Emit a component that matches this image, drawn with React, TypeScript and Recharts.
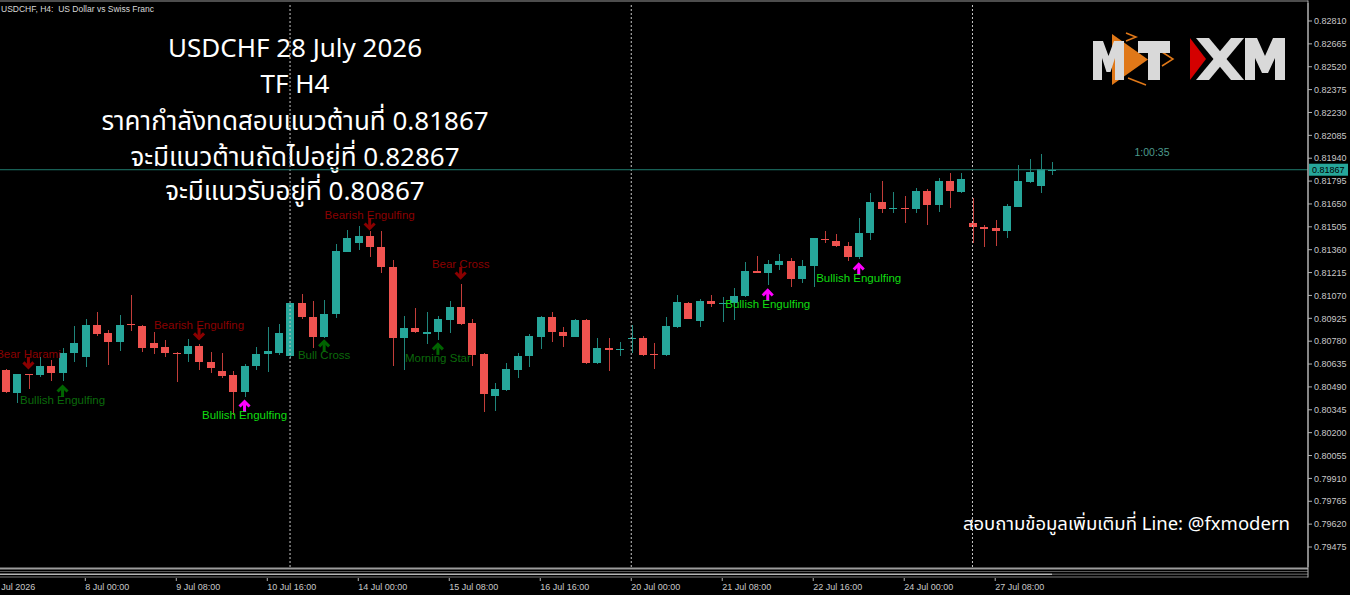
import React from 'react';
import { ComposedChart, Bar, XAxis, YAxis, ReferenceLine, ReferenceDot } from 'recharts';

// ---------- data ----------
const opens = [
  0.80597, 0.80453, 0.8057, 0.80566, 0.80623, 0.8058, 0.80703, 0.80682, 0.80883, 0.8083,
  0.80775, 0.80887, 0.80878, 0.80767, 0.80741, 0.80707, 0.80699, 0.80751, 0.80646, 0.80591,
  0.80566, 0.8046, 0.80623, 0.80699, 0.80707, 0.80686, 0.8102, 0.80935, 0.80808, 0.8095,
  0.81347, 0.81401, 0.81449, 0.81379, 0.81252, 0.80798, 0.80866, 0.80824, 0.80836, 0.80914,
  0.80995, 0.80893, 0.80697, 0.80434, 0.80471, 0.80597, 0.80686, 0.80808, 0.80935, 0.80836,
  0.80808, 0.80914, 0.8064, 0.80735, 0.80724, 0.80792, 0.80802, 0.80699, 0.80692, 0.80872,
  0.81024, 0.8091, 0.81035, 0.81014, 0.81024, 0.81066, 0.81225, 0.81214, 0.81263, 0.81288,
  0.81174, 0.81257, 0.8143, 0.81417, 0.81384, 0.81312, 0.81464, 0.81662, 0.81618, 0.81626,
  0.81616, 0.81734, 0.81643, 0.81797, 0.81724, 0.81531, 0.81502, 0.815, 0.81481, 0.81633,
  0.81791, 0.81764, 0.81864,
];
const highs = [
  0.80604, 0.80572, 0.80572, 0.8068, 0.80661, 0.80737, 0.80876, 0.80919, 0.80963, 0.80851,
  0.80946, 0.81073, 0.8088, 0.8084, 0.80788, 0.80713, 0.80792, 0.80762, 0.80713, 0.80703,
  0.80593, 0.80635, 0.80745, 0.80872, 0.80889, 0.81022, 0.81079, 0.81035, 0.81041, 0.81394,
  0.81485, 0.81512, 0.81479, 0.81479, 0.81295, 0.8094, 0.80992, 0.80963, 0.8094, 0.81035,
  0.81141, 0.80921, 0.80703, 0.80517, 0.8064, 0.80707, 0.80824, 0.80942, 0.80967, 0.80872,
  0.80921, 0.80921, 0.80802, 0.80802, 0.80777, 0.80883, 0.80815, 0.8077, 0.80931, 0.81073,
  0.81029, 0.81046, 0.81073, 0.81062, 0.81115, 0.81284, 0.81322, 0.81295, 0.81331, 0.81306,
  0.81295, 0.81434, 0.81479, 0.8146, 0.81411, 0.81563, 0.81718, 0.81797, 0.81728, 0.81702,
  0.81753, 0.81745, 0.81813, 0.81844, 0.81848, 0.81686, 0.81517, 0.81548, 0.8165, 0.81897,
  0.81933, 0.81965, 0.81918,
];
const lows = [
  0.80452, 0.80388, 0.80477, 0.80553, 0.8053, 0.8053, 0.8065, 0.80618, 0.80813, 0.80629,
  0.8072, 0.80847, 0.80713, 0.80699, 0.80682, 0.80523, 0.8065, 0.80597, 0.80576, 0.80545,
  0.80312, 0.80424, 0.80597, 0.80587, 0.80692, 0.80673, 0.80919, 0.80735, 0.808, 0.80925,
  0.81344, 0.81358, 0.81316, 0.8121, 0.80625, 0.80597, 0.8083, 0.80762, 0.80788, 0.8083,
  0.80883, 0.80625, 0.80333, 0.80339, 0.80465, 0.80545, 0.80618, 0.80729, 0.80777, 0.80741,
  0.80804, 0.80635, 0.80635, 0.80593, 0.80686, 0.80703, 0.80688, 0.80604, 0.80686, 0.80866,
  0.8092, 0.80868, 0.80995, 0.80904, 0.80914, 0.8106, 0.8121, 0.81136, 0.81231, 0.81126,
  0.81147, 0.81126, 0.81404, 0.81377, 0.8129, 0.81299, 0.81422, 0.81595, 0.81591, 0.81527,
  0.81595, 0.81517, 0.81601, 0.81623, 0.81718, 0.81401, 0.81379, 0.81384, 0.81432, 0.8163,
  0.81785, 0.81718, 0.81834,
];
const closes = [
  0.80458, 0.8057, 0.80565, 0.80623, 0.8058, 0.80707, 0.80767, 0.80883, 0.80826, 0.80775,
  0.80883, 0.80881, 0.80739, 0.80739, 0.80707, 0.80701, 0.80751, 0.80646, 0.80608, 0.80561,
  0.8046, 0.80623, 0.80699, 0.80718, 0.8083, 0.8102, 0.80935, 0.80808, 0.80952, 0.81352,
  0.81436, 0.81449, 0.81375, 0.81252, 0.80802, 0.80866, 0.80836, 0.80836, 0.80919, 0.80999,
  0.80889, 0.80692, 0.80445, 0.80475, 0.80602, 0.80688, 0.80815, 0.80935, 0.80836, 0.80815,
  0.80914, 0.8064, 0.80735, 0.80726, 0.80732, 0.80802, 0.80692, 0.80692, 0.80876, 0.81027,
  0.80923, 0.81035, 0.81016, 0.8102, 0.81068, 0.81225, 0.81214, 0.81267, 0.81288, 0.81174,
  0.81257, 0.81432, 0.8142, 0.81384, 0.81312, 0.81468, 0.81662, 0.81618, 0.81626, 0.81618,
  0.81734, 0.81643, 0.81797, 0.81732, 0.8181, 0.81502, 0.81493, 0.81481, 0.81637, 0.81797,
  0.81853, 0.8187, 0.81867,
];

const priceTicks = [
  0.8281, 0.82665, 0.8252, 0.82375, 0.8223, 0.82085, 0.8194, 0.81795, 0.8165, 0.81505, 0.8136, 0.81215,
  0.8107, 0.80925, 0.8078, 0.80635, 0.8049, 0.80345, 0.802, 0.80055, 0.7991, 0.79765, 0.7962, 0.79475,
];
const timeTickBars = [0, 7, 15, 23, 31, 39, 47, 55, 63, 71, 79, 87];
const timeTickLabels = [
  '6 Jul 2026', '8 Jul 00:00', '9 Jul 08:00', '10 Jul 16:00', '14 Jul 00:00', '15 Jul 08:00',
  '16 Jul 16:00', '20 Jul 00:00', '21 Jul 08:00', '22 Jul 16:00', '24 Jul 00:00', '27 Jul 08:00',
];
const weekStartBars = [25, 55, 85];
const currentPrice = 0.81867;
const timeToClose = '1:00:35';

const patternBars = [2, 5, 17, 21, 28, 32, 38, 40, 67, 75];
const patternNames = [
  'Bear Harami', 'Bullish Engulfing', 'Bearish Engulfing', 'Bullish Engulfing', 'Bull Cross',
  'Bearish Engulfing', 'Morning Star', 'Bear Cross', 'Bullish Engulfing', 'Bullish Engulfing',
];
const patternKinds = ['bear', 'bull', 'bear', 'strong', 'bull', 'bear', 'bull', 'bear', 'strong', 'strong'];
const patternPrices = [0.80604, 0.80502, 0.80788, 0.80407, 0.80788, 0.81485, 0.80769, 0.81174, 0.81111, 0.81276];

const symbolCaption = 'USDCHF, H4:  US Dollar vs Swiss Franc';
const titleLines = [
  'USDCHF 28 July 2026',
  'TF H4',
  'ราคากำลังทดสอบแนวต้านที่ 0.81867',
  'จะมีแนวต้านถัดไปอยู่ที่ 0.82867',
  'จะมีแนวรับอยู่ที่ 0.80867',
];
const footerText = 'สอบถามข้อมูลเพิ่มเติมที่ Line: @fxmodern';

// chart shift: empty slots to the right of the last candle
const SLOT_COUNT = 115;
const table = Array.from({ length: SLOT_COUNT }, (_, i) =>
  i < opens.length
    ? { i, range: [lows[i], highs[i]], o: opens[i], h: highs[i], l: lows[i], c: closes[i] }
    : { i, range: null }
);

// ---------- styles ----------
const BULL = '#26a69a';
const BEAR = '#ef5350';
const BULL_WICK = '#1f857b';
const BEAR_WICK = '#c23d39';
const AXIS = '#b4b4b4';
const TXT = '#c8c8c8';
const UI_FONT = "'Liberation Sans', Arial, sans-serif";
const TITLE_FONT = "'Noto Sans Thai', 'Noto Sans', 'DejaVu Sans', sans-serif";

function Candle(props: any) {
  const { x, y, width, height, payload } = props;
  if (!payload || payload.o == null || !isFinite(y) || !isFinite(height)) return null;
  const top = Math.min(y, y + height);
  const bot = Math.max(y, y + height);
  const { o, h, l, c } = payload;
  const py = (p: number) => top + ((h - p) / (h - l)) * (bot - top);
  const bull = c >= o;
  const cx = Math.round(x + width / 2) + 0.5;
  const bTop = py(Math.max(o, c));
  const bBot = py(Math.min(o, c));
  return (
    <g shapeRendering="crispEdges">
      <line x1={cx} x2={cx} y1={top} y2={bot} stroke={bull ? BULL_WICK : BEAR_WICK} strokeWidth={1} />
      <rect x={Math.round(x)} y={bTop} width={width} height={Math.max(1, bBot - bTop)} fill={bull ? BULL : BEAR} />
    </g>
  );
}

function Mark({ cx, cy, name, kind }: any) {
  if (cx == null || cy == null) return null;
  const up = kind !== 'bear';
  const d = up ? 1 : -1;
  const arrowColor = kind === 'bear' ? '#8b0000' : kind === 'bull' ? '#006400' : '#ff00ff';
  const textColor = kind === 'bear' ? '#8b0000' : kind === 'bull' ? '#0b6a0b' : '#10dd10';
  return (
    <g>
      <line x1={cx} x2={cx} y1={cy + d * 1} y2={cy + d * 12} stroke={arrowColor} strokeWidth={3} />
      <polyline
        points={`${cx - 5},${cy + d * 6.5} ${cx},${cy + d * 1.5} ${cx + 5},${cy + d * 6.5}`}
        fill="none"
        stroke={arrowColor}
        strokeWidth={3}
      />
      <text x={cx} y={cy + d * 15} textAnchor="middle" dominantBaseline="central" fontSize={11.5} fill={textColor} fontFamily={UI_FONT}>
        {name}
      </text>
    </g>
  );
}

function TimeTick(props: any) {
  const { x, payload } = props;
  const k = timeTickBars.indexOf(payload.value);
  if (k < 0) return null;
  const first = k === 0;
  return (
    <g>
      {!first && <line x1={x} x2={x} y1={578} y2={581} stroke={AXIS} strokeWidth={1} />}
      <text x={first ? x - 12 : x} y={589.5} fontSize={9} fill={TXT} fontFamily={UI_FONT} textAnchor="start">
        {timeTickLabels[k]}
      </text>
    </g>
  );
}

function PriceTick(props: any) {
  const { x, y, payload } = props;
  return (
    <text x={x} y={y} dy={3.2} fontSize={9} fill={TXT} fontFamily={UI_FONT} textAnchor="start">
      {Number(payload.value).toFixed(5)}
    </text>
  );
}

function PriceTag(props: any) {
  const vb = props.viewBox;
  if (!vb) return null;
  const x = vb.x + vb.width + 1;
  const y = vb.y;
  return (
    <g>
      <text x={1152} y={y - 14} textAnchor="middle" fontSize={10.5} fill="#4c9a8c" fontFamily={UI_FONT}>
        {timeToClose}
      </text>
      <rect x={x} y={y - 6} width={39} height={12} fill={BULL} />
      <text x={x + 3} y={y + 3.3} fontSize={9} fill="#000" fontFamily={UI_FONT}>
        {currentPrice.toFixed(5)}
      </text>
    </g>
  );
}

function Logo() {
  const g = '#d9d9d9';
  const o = '#e07818';
  return (
    <g>
      <polygon points="1112,34 1112,85 1148,59.5" fill={o} />
      <polyline points="1126,33 1136,37 1126,41" fill="none" stroke={o} strokeWidth={1.5} />
      <polyline points="1162,52 1173,59 1162,66" fill="none" stroke={o} strokeWidth={1.5} />
      <polyline points="1128,78 1146,85" fill="none" stroke={o} strokeWidth={1.5} />
      <polygon
        points="1093,80 1093,41 1103,41 1108.5,56 1114,41 1124,41 1124,80 1115,80 1115,58 1110.5,72 1106.5,72 1102,58 1102,80"
        fill={g}
      />
      <polygon points="1138,41 1170,41 1170,53 1160,53 1160,80 1148,80 1148,53 1138,53" fill={g} />
      <polygon points="1190,38 1190,80 1206,59" fill="#d40000" />
      <polygon points="1196,38 1209,38 1244,80 1231,80" fill={g} />
      <polygon points="1231,38 1244,38 1209,80 1196,80" fill={g} />
      <polygon
        points="1245,80 1245,38 1257,38 1265,56 1273,38 1285,38 1285,80 1275,80 1275,58 1268,73 1262,73 1255,58 1255,80"
        fill={g}
      />
    </g>
  );
}

export default function App() {
  const baselines = [57, 92.5, 129.5, 166, 200];
  return (
    <div style={{ position: 'fixed', left: 0, top: 0, width: 1350, height: 595, background: '#000', overflow: 'hidden' }}>
      <svg width={1350} height={595} style={{ position: 'absolute', left: 0, top: 0 }}>
        <text x={1} y={11.5} fontSize={8.5} fill="#d8d8d8" fontFamily={UI_FONT} style={{ whiteSpace: 'pre' }}>
          {symbolCaption}
        </text>
        {titleLines.map((t, k) => (
          <text key={k} x={295} y={baselines[k]} textAnchor="middle" fontSize={26} fill="#ffffff" fontFamily={TITLE_FONT}>
            {t}
          </text>
        ))}
        <text x={1290} y={530} textAnchor="end" fontSize={18.5} fill="#ffffff" fontFamily={TITLE_FONT}>
          {footerText}
        </text>
        <Logo />
      </svg>
      <div style={{ position: 'absolute', left: 0, top: 0 }}>
        <ComposedChart width={1350} height={595} data={table} margin={{ top: 3, right: 0, bottom: 0, left: 0 }}>
          <XAxis
            dataKey="i"
            type="category"
            ticks={timeTickBars}
            interval={0}
            tick={<TimeTick />}
            tickLine={false}
            axisLine={false}
            height={28}
          />
          <YAxis
            orientation="right"
            type="number"
            domain={[0.793482, 0.829241]}
            allowDataOverflow
            ticks={priceTicks}
            interval={0}
            width={42}
            axisLine={{ stroke: AXIS }}
            tickLine={{ stroke: AXIS }}
            tickSize={4}
            tick={<PriceTick />}
          />
          {weekStartBars.map((b) => (
            <ReferenceLine key={b} x={b} stroke="#c8c8c8" strokeDasharray="2 2" strokeWidth={1} />
          ))}
          <ReferenceLine y={currentPrice} stroke="#1f7a6e" strokeWidth={1} label={<PriceTag />} />
          <Bar dataKey="range" barSize={8} shape={<Candle />} isAnimationActive={false} />
          {patternBars.map((b, k) => (
            <ReferenceDot
              key={k}
              x={b}
              y={patternPrices[k]}
              r={0}
              shape={(p: any) => <Mark cx={p.cx} cy={p.cy} name={patternNames[k]} kind={patternKinds[k]} />}
            />
          ))}
        </ComposedChart>
      </div>
      <svg width={1350} height={595} style={{ position: 'absolute', left: 0, top: 0, pointerEvents: 'none' }}>
        <rect x={0} y={0.5} width={1308} height={1} fill="#9a9a9a" />
        <rect x={0} y={567.5} width={1308} height={2} fill="#9c9c9c" />
        <rect x={0} y={571} width={1308} height={1} fill="#5a5a5a" />
        <rect x={0} y={573.5} width={1052} height={1.5} fill="#b8b8b8" />
        <rect x={1052} y={573.5} width={256} height={1.5} fill="#4a4a4a" />
        <rect x={0} y={576.5} width={1308} height={1} fill="#7a7a7a" />
        <rect x={1307.5} y={0.5} width={1} height={577} fill={AXIS} />
      </svg>
    </div>
  );
}
